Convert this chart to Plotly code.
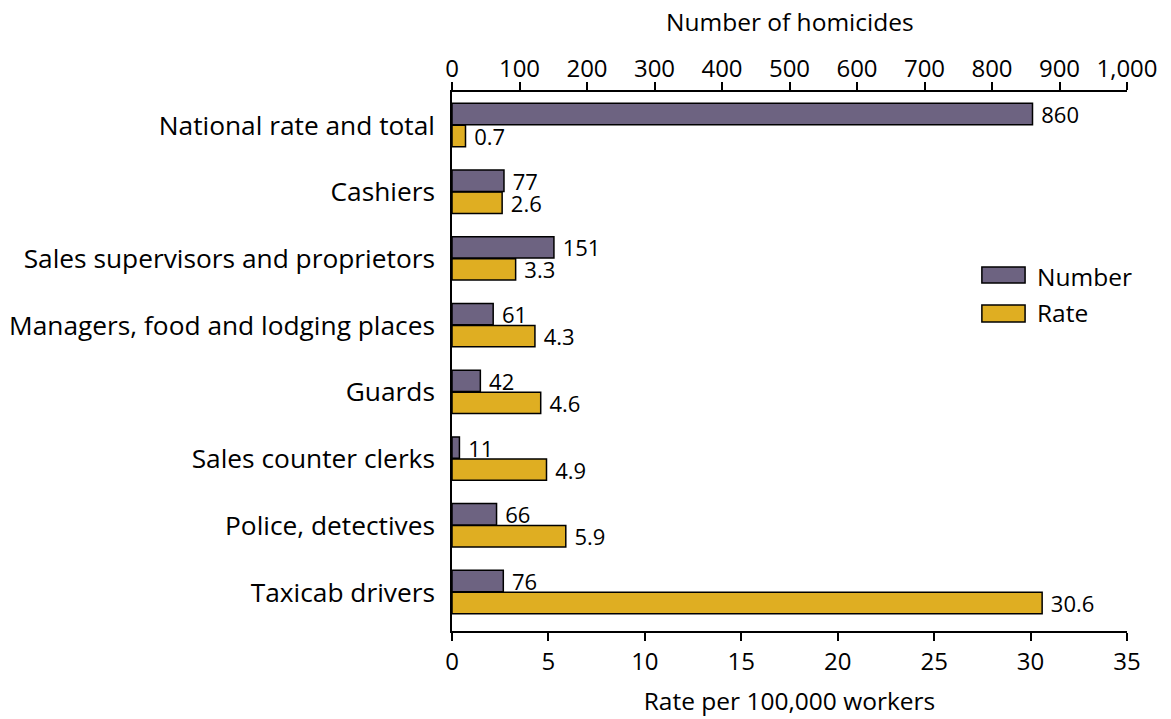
import plotly.graph_objects as go

categories = ["National rate and total", "Cashiers", "Sales supervisors and proprietors",
              "Managers, food and lodging places", "Guards", "Sales counter clerks",
              "Police, detectives", "Taxicab drivers"]
numbers = [860, 77, 151, 61, 42, 11, 66, 76]
rates = [0.7, 2.6, 3.3, 4.3, 4.6, 4.9, 5.9, 30.6]
number_ticks = list(range(0, 1001, 100))
rate_ticks = list(range(0, 36, 5))

PURPLE = "#6D6381"
GOLD = "#DFAE22"
FONT = "Open Sans"
FS_CAT = 26.3
FS_TICK = 24
FS_TITLE = 24.5
FS_BAR = 22

ypos = list(range(len(categories)))

fig = go.Figure()
fig.add_trace(go.Bar(
    y=ypos, x=numbers, orientation="h", xaxis="x2", yaxis="y",
    name="Number", marker=dict(color=PURPLE, line=dict(color="black", width=1.5)),
    width=0.32, offset=-0.33,
    text=[f"\u00a0{v:,}" for v in numbers], textposition="outside", constraintext="none",
    textfont=dict(color="black", size=FS_BAR, family=FONT), cliponaxis=False,
    showlegend=False,
))
fig.add_trace(go.Bar(
    y=ypos, x=rates, orientation="h", xaxis="x", yaxis="y",
    name="Rate", marker=dict(color=GOLD, line=dict(color="black", width=1.5)),
    width=0.32, offset=0.0,
    text=[f"\u00a0{v}" for v in rates], textposition="outside", constraintext="none",
    textfont=dict(color="black", size=FS_BAR, family=FONT), cliponaxis=False,
    showlegend=False,
))

# legend drawn manually with wide swatches
legend_items = [("Number", PURPLE, 0.6456, 0.6753, 0.6586),
                ("Rate", GOLD, 0.5733, 0.6048, 0.590)]
for name, col, y0, y1, yt in legend_items:
    fig.add_shape(type="rect", xref="paper", yref="paper",
                  x0=0.785, x1=0.849, y0=y0, y1=y1,
                  fillcolor=col, line=dict(color="black", width=1.5))
    fig.add_annotation(xref="paper", yref="paper", x=0.8637, y=yt, text=name,
                       showarrow=False, xanchor="left", yanchor="middle",
                       font=dict(size=FS_TITLE, family=FONT, color="black"))

# top axis title
fig.add_annotation(xref="paper", yref="paper", x=0.5, y=1.1317, text="Number of homicides",
                   showarrow=False, xanchor="center", yanchor="middle", height=26,
                   font=dict(size=FS_TITLE, family=FONT, color="black"))

axis_common = dict(showgrid=False, zeroline=False, showline=True, linecolor="black",
                   linewidth=1.5, ticks="outside", tickcolor="black", ticklen=8, tickwidth=1.5,
                   tickfont=dict(size=FS_TICK, family=FONT, color="black"))

fig.update_layout(
    width=1171, height=719,
    margin=dict(l=444, r=52, t=84, b=96, autoexpand=False),
    paper_bgcolor="white", plot_bgcolor="white",
    font=dict(family=FONT, size=FS_TICK, color="black"),
    barmode="overlay",
    xaxis=dict(range=[0, 35], tickvals=rate_ticks, side="bottom",
               title=dict(text="Rate per 100,000 workers", font=dict(size=FS_TITLE, family=FONT), standoff=17),
               **axis_common),
    xaxis2=dict(range=[0, 1000], tickvals=number_ticks, tickformat=",", side="top",
                overlaying="x", anchor="y", ticklabelstandoff=-4,
                **axis_common),
    yaxis=dict(range=[7.58, -0.5], tickvals=ypos, ticktext=categories, showgrid=False,
               zeroline=False, showline=True, linecolor="black", linewidth=1.5,
               ticks="", ticklabelstandoff=10,
               tickfont=dict(size=FS_CAT, family=FONT, color="black")),
)

fig.write_html("out.html")
